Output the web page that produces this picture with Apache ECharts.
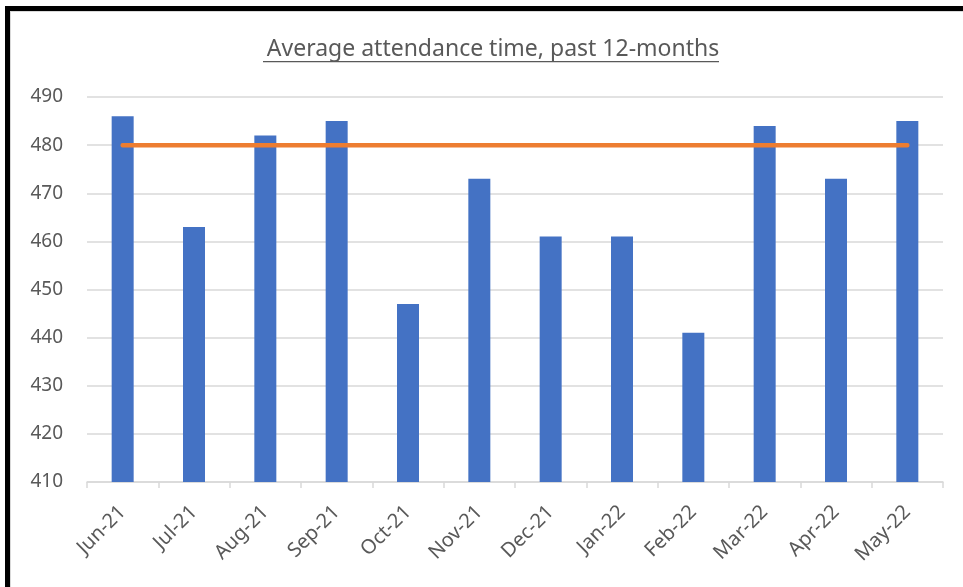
<!DOCTYPE html>
<html>
<head>
<meta charset="utf-8">
<script src="https://cdn.jsdelivr.net/npm/echarts@6/dist/echarts.min.js"></script>
<style>
  html, body { margin: 0; padding: 0; background: #fff; }
  #chart { width: 963px; height: 587px; }
</style>
</head>
<body>
<div id="chart"></div>
<script>
// data
const months = ["Jun-21", "Jul-21", "Aug-21", "Sep-21", "Oct-21", "Nov-21",
  "Dec-21", "Jan-22", "Feb-22", "Mar-22", "Apr-22", "May-22"];
const attendance = [486, 463, 482, 485, 447, 473, 461, 461, 441, 484, 473, 485];
const target = [480, 480, 480, 480, 480, 480, 480, 480, 480, 480, 480, 480];

const chart = echarts.init(document.getElementById("chart"));
const labelColor = "#595959";
const font = "Noto Sans";

const option = {
  animation: false,
  title: {
    text: "Average attendance time, past 12-months",
    left: 488,
    textAlign: "center",
    top: 33,
    textStyle: { fontFamily: font, fontSize: 23, fontWeight: "normal", color: labelColor },
  },
  grid: { left: 87, right: 20, top: 97, bottom: 105 },
  xAxis: {
    type: "category",
    data: months,
    axisLine: { lineStyle: { color: "#d9d9d9", width: 1.5 } },
    axisTick: { show: true, length: 6, lineStyle: { color: "#d9d9d9", width: 1.5 } },
    axisLabel: { rotate: 45, margin: 27, fontFamily: font, fontSize: 20, color: labelColor },
  },
  yAxis: {
    type: "value",
    min: 410,
    max: 490,
    interval: 10,
    axisLine: { show: false },
    axisTick: { show: false },
    splitLine: { lineStyle: { color: "#d9d9d9", width: 1.5 } },
    axisLabel: { margin: 24, fontFamily: font, fontSize: 19, color: labelColor },
  },
  series: [
    {
      name: "Attendance",
      type: "bar",
      data: attendance,
      barWidth: 22,
      itemStyle: { color: "#4472c4" },
    },
    {
      name: "Target",
      type: "line",
      data: target,
      symbol: "none",
      lineStyle: { color: "#ed7d31", width: 4.5, cap: "round" },
    },
  ],
  graphic: [
    // black frame on top and left edges
    { type: "rect", shape: { x: 5, y: 6, width: 958, height: 5 }, style: { fill: "#000" } },
    { type: "rect", shape: { x: 5, y: 6, width: 5, height: 581 }, style: { fill: "#000" } },
    { type: "rect", shape: { x: 10, y: 11, width: 953, height: 1 }, style: { fill: "#d9d9d9" } },
    { type: "rect", shape: { x: 10, y: 11, width: 1, height: 576 }, style: { fill: "#d9d9d9" } },
    // title underline
    { type: "rect", shape: { x: 263, y: 61, width: 456, height: 1.3 }, style: { fill: labelColor } },
  ],
};

chart.setOption(option);
</script>
</body>
</html>
